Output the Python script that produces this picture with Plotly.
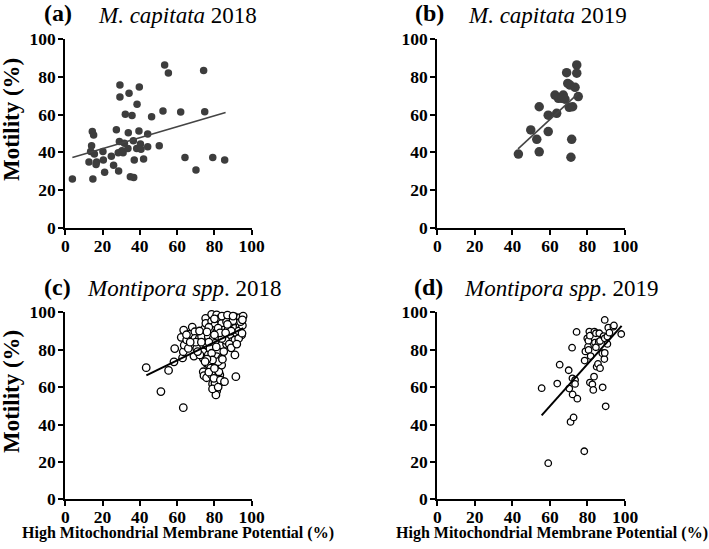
import plotly.graph_objects as go

W, H = 709, 549

# ---------------- data ----------------
a_x = [3.8, 12.7, 14.5, 15.2, 14.1, 13.6, 15.6, 14.8, 16.8, 16.5, 20.2, 20.4, 21.1, 24.7, 25.9,
       27.4, 28.6, 29.0, 28.4, 29.3, 29.3, 30.4, 31.0, 31.7, 32.2, 33.6, 33.8, 34.2, 34.9, 35.8,
       36.7, 36.5, 37.0, 38.5, 38.3, 39.7, 39.5, 40.3, 40.6, 42.0, 44.2, 44.2, 46.3, 50.4, 52.4,
       53.3, 55.3, 61.9, 64.2, 70.1, 74.2, 74.8, 79.1, 85.5]
a_y = [25.8, 34.9, 51.0, 49.2, 43.5, 40.4, 39.1, 25.8, 34.9, 33.5, 40.4, 35.9, 29.4, 37.9, 33.1,
       52.0, 30.1, 45.7, 39.8, 75.8, 69.4, 40.9, 39.8, 44.8, 60.2, 42.1, 50.4, 71.3, 27.1, 59.6,
       26.7, 46.2, 35.9, 65.5, 42.1, 74.7, 51.3, 44.4, 41.6, 36.5, 49.7, 43.0, 58.9, 43.5, 61.9,
       86.4, 82.1, 61.4, 37.2, 30.6, 83.4, 61.6, 37.2, 35.9]
a_fit_x = [3.8, 86.0]
a_fit_y = [37.3, 61.2]

b_x = [43.2, 49.8, 53.0, 54.3, 54.3, 59.1, 59.1, 63.6, 62.7, 64.5, 67.1, 66.3, 68.0, 68.9, 69.5,
       70.7, 70.3, 72.1, 71.6, 71.2, 73.4, 74.3, 74.3, 75.1]
b_y = [39.1, 51.9, 46.9, 64.2, 40.3, 51.0, 59.7, 60.7, 70.4, 68.7, 70.4, 68.7, 68.2, 82.3, 76.6,
       75.7, 63.9, 64.2, 46.9, 37.4, 74.5, 86.4, 82.0, 69.6]
b_fit_x = [43.0, 75.1]
b_fit_y = [41.8, 71.3]

c_x = [43.4, 51.3, 55.4, 63.3, 58.7, 58.3, 62.9, 63.3, 63.8, 62.2, 63.5, 66.9, 68.1, 69.5, 69.5,
       68.6, 69.0, 71.9, 71.9, 73.1, 74.0, 74.0, 74.9, 75.3, 75.4, 75.8, 76.7, 75.8, 74.0, 74.4,
       75.8, 77.2, 78.0, 78.5, 79.0, 80.3, 81.2, 80.8, 82.9, 82.4, 84.7, 81.2, 83.9, 83.9, 82.0,
       91.0, 91.5,
       78.5, 81.2, 82.9, 85.6, 88.3, 91.0, 93.7, 95.4,
       78.5, 80.3, 83.9, 86.5, 89.2, 92.8,
       78.5, 81.2, 84.7, 87.4, 91.0, 93.7,
       76.7, 79.4, 82.0, 85.6, 88.3, 91.9, 94.6,
       80.3, 83.9, 86.5, 89.2, 91.0,
       77.6, 72.2, 70.5, 66.0, 65.1, 78.5, 79.0, 79.7,
       70.0, 72.0, 77.0, 80.0, 84.0, 87.0, 90.0, 93.0, 95.0, 86.0, 88.0, 84.0, 82.0, 77.0, 73.0,
       71.0, 67.0, 65.0, 76.0, 77.0, 79.0, 82.0, 80.0, 85.0, 89.0, 93.0, 94.0, 87.0, 83.0, 80.0,
       76.0, 89.0, 92.0, 86.0, 81.0, 90.0, 95.0, 75.0, 83.2, 84.3, 85.4, 94.8]
c_y = [70.4, 57.6, 68.9, 49.0, 80.6, 73.5, 75.6, 78.9, 82.4, 86.6, 90.5, 88.3, 92.1, 89.6, 86.1,
       82.9, 76.6, 86.1, 81.6, 87.0, 78.9, 75.4, 91.4, 96.8, 94.1, 82.5, 77.2, 72.7, 68.2, 66.1,
       65.0, 71.8, 70.1, 66.5, 61.7, 62.0, 57.9, 55.8, 66.5, 68.2, 62.9, 76.3, 75.4, 71.8, 73.6,
       77.2, 65.6,
       98.9, 98.6, 96.8, 97.6, 96.8, 97.6, 97.1, 98.0,
       95.2, 93.2, 94.1, 95.0, 94.1, 94.1,
       90.5, 89.6, 90.5, 91.4, 91.4, 92.3,
       87.0, 86.1, 87.0, 87.0, 87.9, 88.8, 87.9,
       83.4, 82.5, 82.9, 84.3, 85.2,
       80.7, 77.2, 80.7, 80.7, 85.2, 78.1, 74.5, 64.7,
       84.0, 90.0, 92.0, 96.5, 98.0, 98.5, 95.5, 90.0, 93.0, 85.0, 83.0, 86.0, 91.5, 84.0, 84.0,
       79.0, 84.0, 88.0, 75.0, 68.0, 59.0, 60.0, 70.0, 79.0, 81.0, 86.0, 95.0, 93.5, 89.0, 88.0,
       89.5, 90.0, 83.0, 89.0, 81.5, 98.0, 96.0, 73.6, 63.8, 74.9, 62.9, 88.8]
c_fit_x = [43.5, 95.5]
c_fit_y = [66.3, 91.5]

d_x = [55.6, 59.1, 63.9, 65.2, 70.0, 70.3, 71.0, 71.8, 72.0, 72.1, 72.6, 73.4, 73.4, 74.6, 74.2,
       78.5, 78.3, 78.9, 79.9, 80.3, 80.5, 80.6, 81.0, 81.3, 81.7, 81.3, 82.6, 83.1, 83.5, 83.7,
       84.0, 84.5, 84.5, 84.9, 85.6, 86.0, 86.3, 86.7, 86.7, 87.9, 88.1, 88.6, 89.0, 89.2, 89.2,
       89.2, 89.7, 90.6, 90.6, 91.1, 91.7, 93.8, 94.1, 98.0]
d_y = [59.4, 19.3, 61.9, 72.0, 69.0, 59.2, 41.4, 81.1, 64.7, 56.1, 43.8, 63.8, 61.7, 53.8, 89.5,
       74.2, 25.7, 79.1, 86.1, 81.6, 84.8, 79.9, 89.7, 87.5, 76.6, 62.4, 61.5, 58.5, 65.6, 89.7,
       83.8, 81.3, 88.8, 70.9, 72.4, 84.3, 88.8, 70.1, 84.7, 78.1, 59.9, 87.3, 75.0, 95.9, 78.3,
       86.1, 49.7, 83.1, 87.0, 91.8, 89.1, 92.3, 93.0, 88.4]
d_fit_x = [55.6, 98.2]
d_fit_y = [44.9, 92.7]

tick_vals = [0, 20, 40, 60, 80, 100]
panel_letters = ["(a)", "(b)", "(c)", "(d)"]
panel_titles = ["<i>M. capitata</i> 2018", "<i>M. capitata</i> 2019",
                "<i>Montipora spp</i>. 2018", "<i>Montipora spp</i>. 2019"]
y_title = "Motility (%)"
x_title = "High Mitochondrial Membrane Potential (%)"

# ---------------- layout helpers ----------------
FONT = "Liberation Serif, Times New Roman, serif"
FILL = "#3d3d3d"

def px_x(p):
    return p / W

def px_y(p):
    return 1 - p / H

# pixel boxes: (left, right, top, bottom)
boxes = [(65.3, 251.7, 39.3, 227.7), (437.3, 625.0, 39.3, 227.7),
         (65.3, 251.7, 312.3, 499.3), (437.3, 625.0, 312.3, 499.3)]

fig = go.Figure()

panels = [
    (a_x, a_y, a_fit_x, a_fit_y, "filled", 7.5, 1.6, "#444444"),
    (b_x, b_y, b_fit_x, b_fit_y, "filled", 9.5, 1.6, "#444444"),
    (c_x, c_y, c_fit_x, c_fit_y, "open", 7.5, 2.0, "#000000"),
    (d_x, d_y, d_fit_x, d_fit_y, "open", 6.5, 2.0, "#000000"),
]

for i, (xs, ys, fx, fy, style, msize, lw, lc) in enumerate(panels):
    sfx = "" if i == 0 else str(i + 1)
    xa, ya = "x" + sfx, "y" + sfx
    if style == "filled":
        marker = dict(size=msize, color=FILL, line=dict(width=0))
    else:
        marker = dict(size=msize, color="white", line=dict(width=1.3, color="black"))
    fig.add_trace(go.Scatter(x=xs, y=ys, mode="markers", marker=marker, xaxis=xa, yaxis=ya,
                             cliponaxis=False, showlegend=False, hoverinfo="skip"))
    fig.add_trace(go.Scatter(x=fx, y=fy, mode="lines", line=dict(color=lc, width=lw),
                             xaxis=xa, yaxis=ya, showlegend=False, hoverinfo="skip"))
    l, r, t, b = boxes[i]
    axis_common = dict(range=[0, 100], tickvals=tick_vals, showline=True, linecolor="black",
                       linewidth=2, ticks="outside", ticklen=5, tickwidth=2, tickcolor="black",
                       showgrid=False, zeroline=False, fixedrange=True, automargin=False,
                       tickfont=dict(family=FONT, size=17.5, color="black", weight="bold"))
    fig.layout["xaxis" + sfx] = dict(domain=[px_x(l), px_x(r)], anchor=ya,
                                     ticklabelstandoff=-4, **axis_common)
    fig.layout["yaxis" + sfx] = dict(domain=[px_y(b), px_y(t)], anchor=xa,
                                     ticklabelstandoff=-1, **axis_common)

# titles
letter_pos = [(42, 13), (413, 13), (42, 287), (412, 287)]
title_pos = [(96, 15), (466, 15), (85, 288), (462, 288)]
ann = []
for i in range(4):
    lx, ly = letter_pos[i]
    tx, ty = title_pos[i]
    ann.append(dict(text="<b>" + panel_letters[i] + "</b>", x=px_x(lx), y=px_y(ly),
                    xref="paper", yref="paper", xanchor="left", yanchor="middle",
                    showarrow=False, font=dict(family=FONT, size=24, color="black")))
    ann.append(dict(text=panel_titles[i], x=px_x(tx), y=px_y(ty),
                    xref="paper", yref="paper", xanchor="left", yanchor="middle",
                    showarrow=False, font=dict(family=FONT, size=23, color="black")))
for cy in (120, 392):
    ann.append(dict(text="<b>" + y_title + "</b>", x=px_x(11), y=px_y(cy), textangle=-90,
                    xref="paper", yref="paper", xanchor="center", yanchor="middle",
                    showarrow=False, font=dict(family=FONT, size=23, color="black")))
for cx in (178, 552):
    ann.append(dict(text="<b>" + x_title + "</b>", x=px_x(cx), y=px_y(533),
                    xref="paper", yref="paper", xanchor="center", yanchor="middle",
                    showarrow=False, font=dict(family=FONT, size=16, color="black")))

fig.update_layout(width=W, height=H, margin=dict(l=0, r=0, t=0, b=0),
                  paper_bgcolor="white", plot_bgcolor="white", annotations=ann)

fig.write_html("out.html", config={"displayModeBar": False},
               post_script="document.body.style.margin='0';document.body.style.overflow='hidden';")
